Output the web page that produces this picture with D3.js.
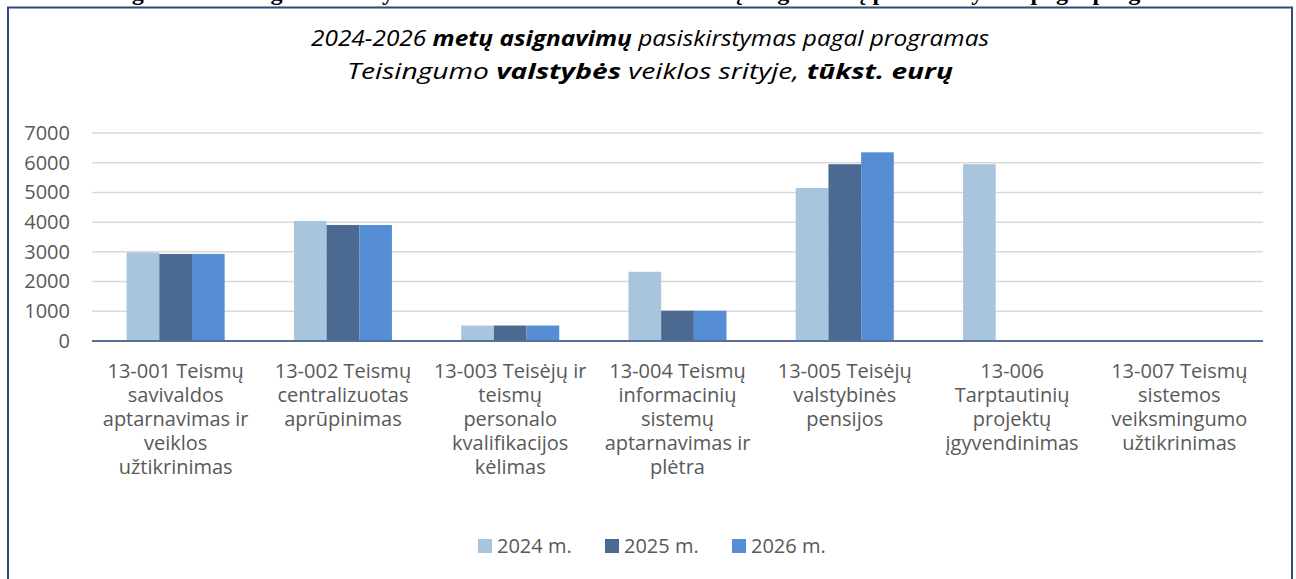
<!DOCTYPE html>
<html>
<head>
<meta charset="utf-8">
<script src="https://cdn.jsdelivr.net/npm/d3@7"></script>
<style>
  html, body { margin: 0; padding: 0; background: #fff; }
  svg { display: block; }
</style>
</head>
<body>
<div id="chart"></div>
<script>
const width = 1296;
const height = 579;
const margin = { top: 133, right: 33, bottom: 238, left: 92 };

// data
const categories = ["13-001", "13-002", "13-003", "13-004", "13-005", "13-006", "13-007"];
const categoryLabels = [
  ["13-001 Teismų", "savivaldos", "aptarnavimas ir", "veiklos", "užtikrinimas"],
  ["13-002 Teismų", "centralizuotas", "aprūpinimas"],
  ["13-003 Teisėjų ir", "teismų", "personalo", "kvalifikacijos", "kėlimas"],
  ["13-004 Teismų", "informacinių", "sistemų", "aptarnavimas ir", "plėtra"],
  ["13-005 Teisėjų", "valstybinės", "pensijos"],
  ["13-006", "Tarptautinių", "projektų", "įgyvendinimas"],
  ["13-007 Teismų", "sistemos", "veiksmingumo", "užtikrinimas"]
];
const series = ["2024 m.", "2025 m.", "2026 m."];
const values2024 = [2980, 4040, 520, 2330, 5150, 5950, 0];
const values2025 = [2930, 3905, 520, 1020, 5950, 0, 0];
const values2026 = [2930, 3905, 520, 1020, 6350, 0, 0];
const yTicks = [0, 1000, 2000, 3000, 4000, 5000, 6000, 7000];

const seriesValues = [values2024, values2025, values2026];
const colors = ["#a9c4dd", "#4b6991", "#558ed5"];

const svg = d3.select("#chart")
  .append("svg")
  .attr("width", width)
  .attr("height", height);

// document caption above the frame, cut off by the page top as in the source
svg.append("text")
  .attr("x", 650)
  .attr("y", 0)
  .attr("text-anchor", "middle")
  .style("font-family", "'Liberation Serif', 'Times New Roman', serif")
  .style("font-weight", "bold")
  .style("font-size", "24px")
  .text("Diagrama. Teisingumo valstybės veiklos srities 2024–2026 metų asignavimų pasiskirstymas pagal programas");

// frame
svg.append("rect")
  .attr("x", 8)
  .attr("y", 7.5)
  .attr("width", 1284)
  .attr("height", 600)
  .attr("fill", "none")
  .attr("stroke", "#2f4b7c")
  .attr("stroke-width", 2);

// title
const titleLines = [
  [["2024-2026 ", false], ["metų asignavimų", true], [" pasiskirstymas pagal programas", false]],
  [["Teisingumo ", false], ["valstybės", true], [" veiklos srityje, ", false], ["tūkst. eurų", true]]
];
const titleLengths = [678, 606];
titleLines.forEach((parts, i) => {
  const t = svg.append("text")
    .attr("x", 650)
    .attr("y", 46 + i * 33)
    .attr("text-anchor", "middle")
    .attr("textLength", titleLengths[i])
    .attr("lengthAdjust", "spacingAndGlyphs")
    .style("font-family", "'Open Sans', sans-serif")
    .style("font-style", "italic")
    .style("font-size", "22px")
    .attr("fill", "#000");
  parts.forEach(([s, bold]) => {
    t.append("tspan").style("font-weight", bold ? "bold" : "normal").text(s);
  });
});

const x = d3.scaleBand()
  .domain(categories)
  .range([margin.left, width - margin.right])
  .paddingInner(0.414)
  .paddingOuter(0.207);

const xs = d3.scaleBand()
  .domain(series)
  .range([0, x.bandwidth()]);

const y = d3.scaleLinear()
  .domain([0, 7000])
  .range([height - margin.bottom, margin.top]);

// gridlines
svg.append("g")
  .selectAll("line")
  .data(yTicks.filter(d => d > 0))
  .join("line")
  .attr("x1", margin.left)
  .attr("x2", width - margin.right)
  .attr("y1", d => y(d))
  .attr("y2", d => y(d))
  .attr("stroke", "#d9d9d9")
  .attr("stroke-width", 1.5);

// bars
series.forEach((s, si) => {
  svg.append("g")
    .attr("fill", colors[si])
    .selectAll("rect")
    .data(categories.map((c, ci) => ({ c, v: seriesValues[si][ci] })).filter(d => d.v > 0))
    .join("rect")
    .attr("x", d => x(d.c) + xs(s))
    .attr("y", d => y(d.v))
    .attr("width", xs.bandwidth())
    .attr("height", d => y(0) - y(d.v));
});

// baseline
svg.append("line")
  .attr("x1", margin.left)
  .attr("x2", width - margin.right)
  .attr("y1", y(0))
  .attr("y2", y(0))
  .attr("stroke", "#56709a")
  .attr("stroke-width", 2);

const labelFont = "'Open Sans', 'Noto Sans', sans-serif";

// y axis
const yAxis = svg.append("g")
  .attr("transform", `translate(70,0)`)
  .call(d3.axisLeft(y).tickValues(yTicks).tickFormat(d3.format("d")).tickSize(0).tickPadding(0));
yAxis.select(".domain").remove();
yAxis.selectAll("text")
  .style("font-family", labelFont)
  .style("font-size", "20px")
  .attr("fill", "#595959");

// category labels, one text per line
const catG = svg.append("g")
  .selectAll("g")
  .data(categories)
  .join("g")
  .attr("transform", d => `translate(${x(d) + x.bandwidth() / 2},378)`);
catG.each(function (d, i) {
  d3.select(this).selectAll("text")
    .data(categoryLabels[i])
    .join("text")
    .attr("text-anchor", "middle")
    .attr("y", (l, j) => j * 24)
    .style("font-family", labelFont)
    .style("font-size", "20px")
    .attr("fill", "#595959")
    .text(l => l);
});

// legend
const legendX = [478, 605, 732];
const legend = svg.append("g");
series.forEach((s, i) => {
  const g = legend.append("g").attr("transform", `translate(${legendX[i]},539)`);
  g.append("rect").attr("width", 14).attr("height", 14).attr("fill", colors[i]);
  g.append("text")
    .attr("x", 19)
    .attr("y", 14)
    .style("font-family", labelFont)
    .style("font-size", "20px")
    .attr("fill", "#595959")
    .text(s);
});
</script>
</body>
</html>
